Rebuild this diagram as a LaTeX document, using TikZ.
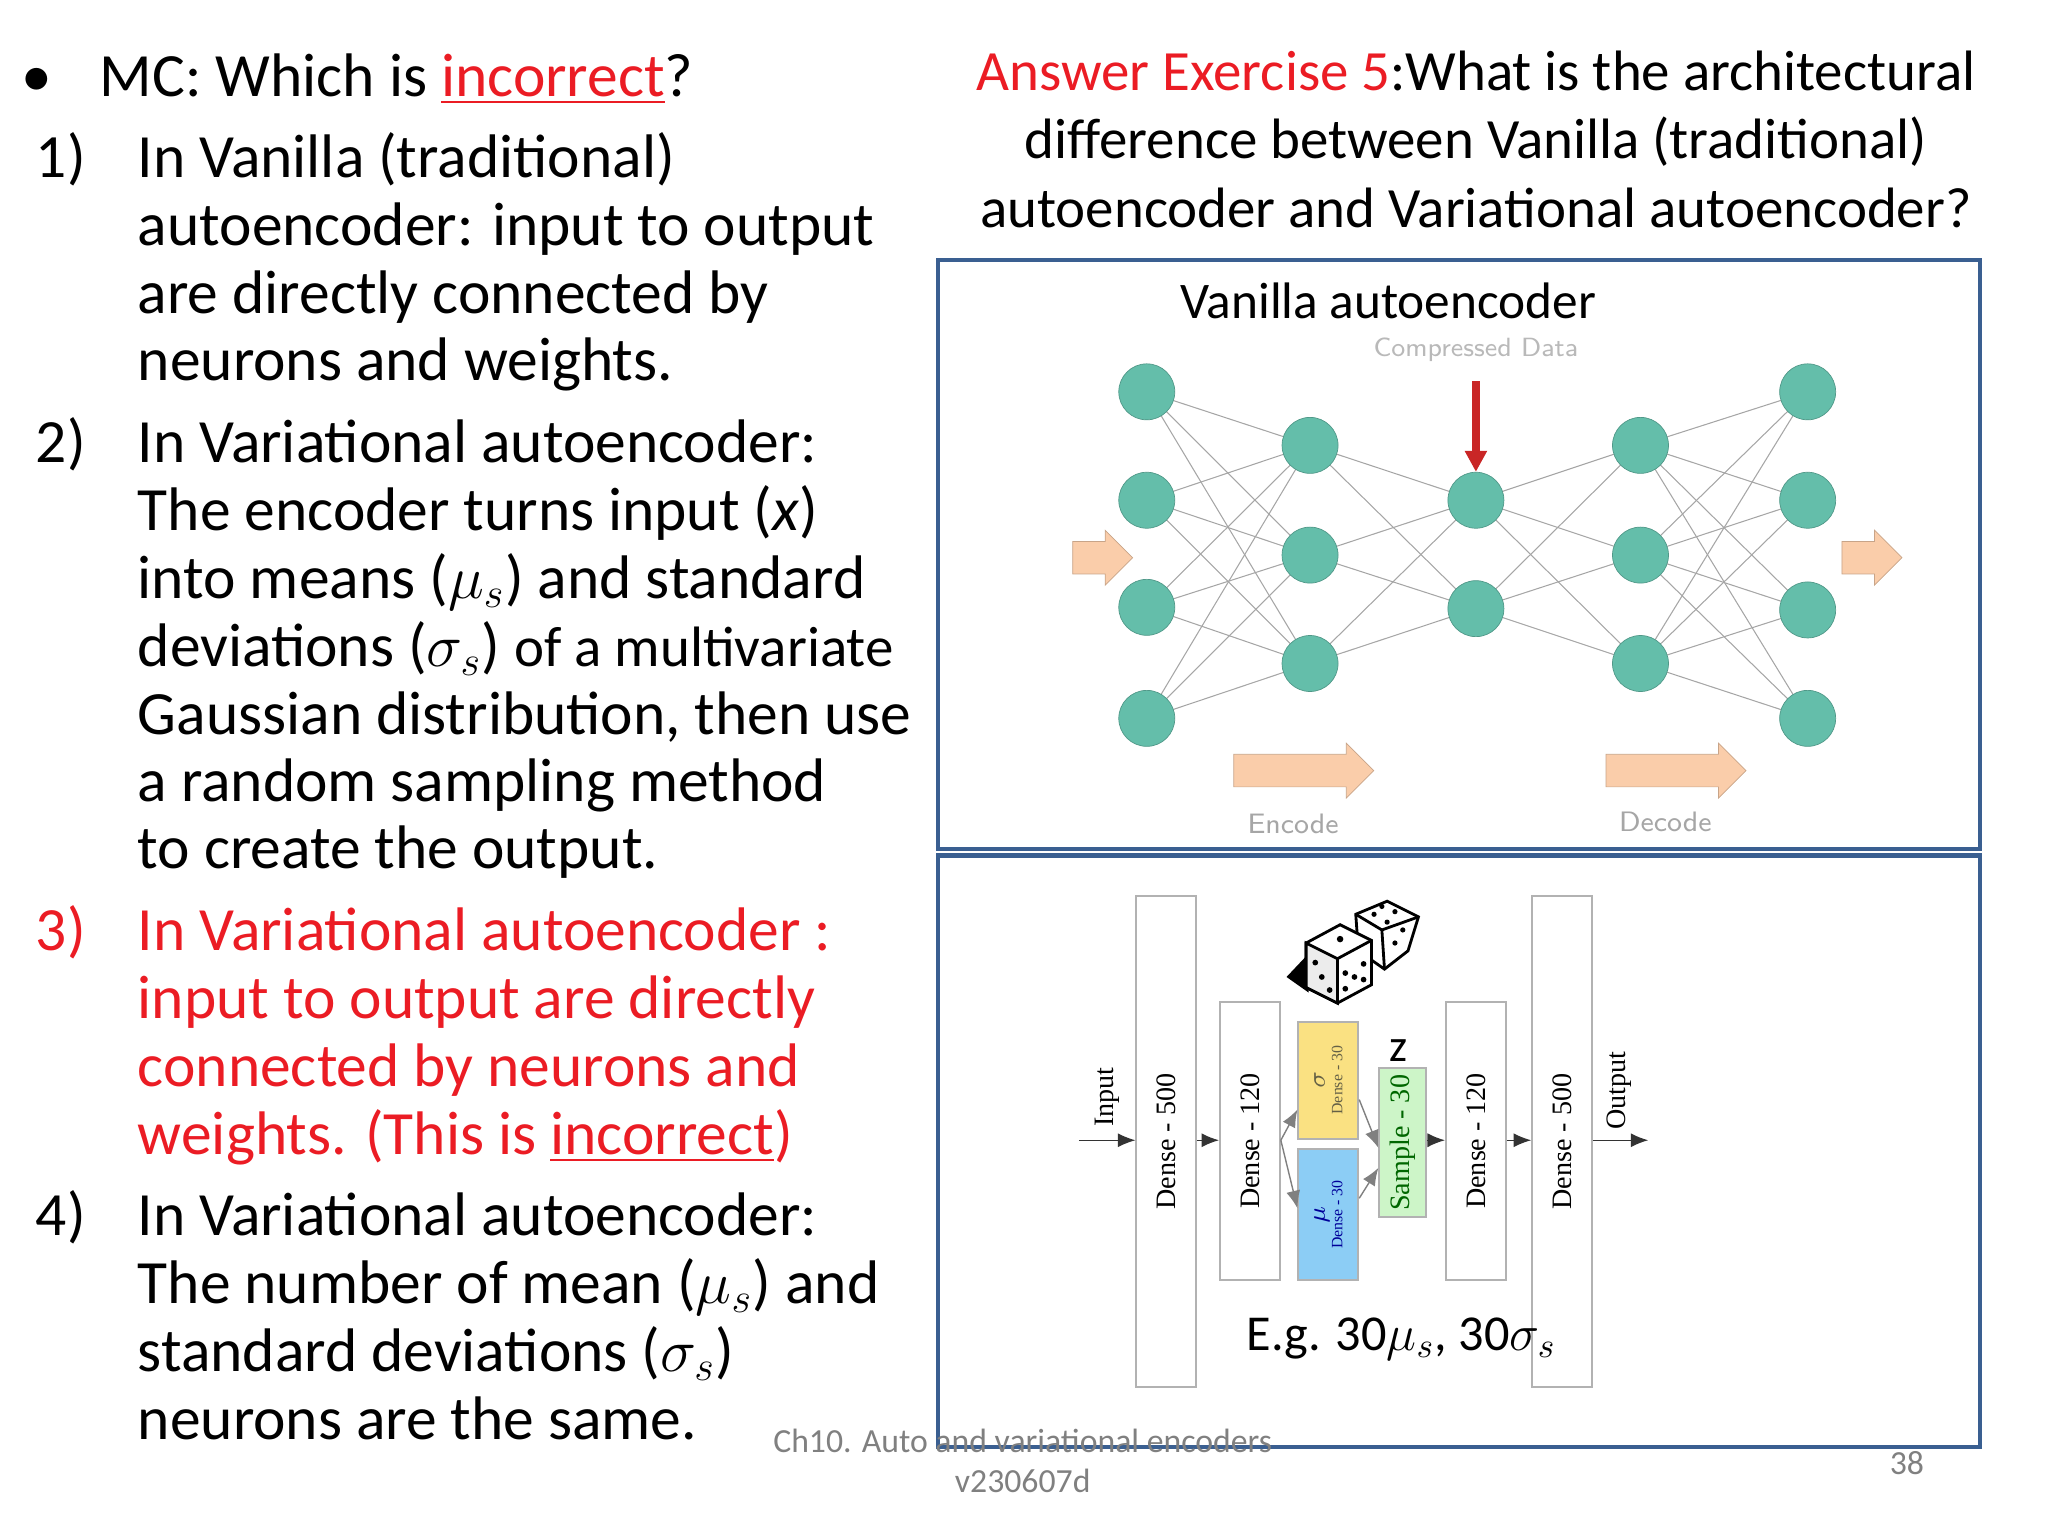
\documentclass[tikz,border=0pt]{standalone}
\usepackage{fontspec}
\setmainfont{Carlito}
\newfontfamily\serifx{Liberation Serif}
\usetikzlibrary{arrows.meta,shapes.arrows}
\definecolor{boxblue}{RGB}{58,95,145}
\definecolor{neur}{RGB}{100,190,170}
\definecolor{peach}{RGB}{250,205,170}
\definecolor{txtred}{RGB}{235,28,36}
\definecolor{ygold}{RGB}{250,225,130}
\definecolor{lblue}{RGB}{140,205,245}
\definecolor{lgreen}{RGB}{205,245,200}
\tikzset{
  big/.style={anchor=base west,inner sep=0pt,font=\fontsize{17.5}{19}\selectfont},
  ttl/.style={anchor=base,inner sep=0pt,font=\fontsize{16.2}{19}\selectfont},
  neuron/.style={circle,fill=neur,draw=neur!80!black,line width=0.2pt,minimum size=0.56cm,inner sep=0pt},
  wire/.style={gray!70,line width=0.3pt},
  layer/.style={draw=gray!60,fill=white,line width=0.5pt,inner sep=0pt},
  lay/.style={rotate=90,font=\serifx\fontsize{8}{9}\selectfont,inner sep=0pt},
  tiny/.style={rotate=90,font=\serifx\fontsize{4.5}{5}\selectfont,inner sep=0pt,align=center},
  flow/.style={-{Latex[length=5pt,width=4pt]},line width=0.4pt,black!80},
  fat/.style={single arrow,fill=peach,draw=peach!80!black,line width=0.2pt,minimum height=1.35cm,minimum width=0.55cm,single arrow head extend=0.08cm,inner xsep=0pt,inner ysep=3.2pt}
}
\begin{document}
\begin{tikzpicture}[x=0.01306cm,y=-0.01306cm]
\useasboundingbox (0,0) rectangle (1568,1176);
% left text
\node[big] (bul) at (16,74) {\textbullet};
\node[big] (mc) at (76,74) {MC: Which is \textcolor{txtred}{\underline{incorrect}}?};
\foreach \n/\y in {1)/136,2)/354,4)/946} \node[big] at (27,\y) {\n};
\node[big,txtred] (n3) at (27,728) {3)};
\node[big] (a1) at (105,136) {In Vanilla (traditional)};
\node[big] (a2) at (105,188) {autoencoder: input to output};
\node[big] (a3) at (105,240) {are directly connected by};
\node[big] (a4) at (105,291) {neurons and weights.};
\node[big] (b1) at (105,354) {In Variational autoencoder:};
\node[big] (b2) at (105,406) {The encoder turns input (\textit{x})};
\node[big] (b3) at (105,458) {into means ($\mu_s$) and standard};
\node[big] (b4) at (105,510) {deviations ($\sigma_s$) {\fontsize{16.2}{19}\selectfont of a multivariate}};
\node[big] (b5) at (105,562) {Gaussian distribution, then use};
\node[big] (b6) at (105,614) {a random sampling method};
\node[big] (b7) at (105,665) {to create the output.};
\node[big,txtred] (c1) at (105,728) {In Variational autoencoder :};
\node[big,txtred] (c2) at (105,780) {input to output are directly};
\node[big,txtred] (c3) at (105,832) {connected by neurons and};
\node[big,txtred] (c4) at (105,884) {weights. (This is \underline{incorrect})};
\node[big] (d1) at (105,946) {In Variational autoencoder:};
\node[big] (d2) at (105,998) {The number of mean ($\mu_s$) and};
\node[big] (d3) at (105,1050) {standard deviations ($\sigma_s$)};
\node[big] (d4) at (105,1102) {neurons are the same.};
% right title
\node[ttl] (t1) at (1130,69) {\textcolor{txtred}{Answer Exercise 5}:What is the architectural};
\node[ttl] (t2) at (1130,121) {difference between Vanilla (traditional)};
\node[ttl] (t3) at (1130,174) {autoencoder and Variational autoencoder?};
% boxes
\draw[boxblue,line width=1.3pt] (718,199) rectangle (1516,650);
\draw[boxblue,line width=1.3pt] (718,655) rectangle (1516,1108);
\node[anchor=base,inner sep=0pt,font=\fontsize{14.6}{16}\selectfont] (van) at (1063,244) {Vanilla autoencoder};
% network
\foreach \i/\y in {1/300,2/383,3/465,4/550} \coordinate (p1\i) at (878,\y);
\foreach \i/\y in {1/341,2/425,3/508} \coordinate (p2\i) at (1003,\y);
\foreach \i/\y in {1/383,2/466} \coordinate (p3\i) at (1130,\y);
\foreach \i/\y in {1/341,2/425,3/508} \coordinate (p4\i) at (1256,\y);
\foreach \i/\y in {1/300,2/383,3/467,4/550} \coordinate (p5\i) at (1384,\y);
\foreach \a in {1,...,4}{\foreach \b in {1,2,3}{\draw[wire] (p1\a) -- (p2\b); \draw[wire] (p4\b) -- (p5\a);}}
\foreach \a in {1,2,3}{\foreach \b in {1,2}{\draw[wire] (p2\a) -- (p3\b); \draw[wire] (p3\b) -- (p4\a);}}
\foreach \l/\n in {1/4,2/3,3/2,4/3,5/4}{\foreach \i in {1,...,\n} \node[neuron] (n\l\i) at (p\l\i) {};}
\node[inner sep=0pt,text=gray!55,font=\sffamily\fontsize{7.5}{8}\selectfont] (cd) at (1130,268) {Compressed Data};
\coordinate (rtop) at (1130,292);
\draw[-{Triangle[length=6pt,width=6pt]},line width=2.2pt,red!75!black!85] (rtop) -- (n31.north);
\node[fat,minimum height=0.6cm] (ain) at (838,427) {};
\node[fat,minimum height=0.6cm] (aout) at (1427,427) {};
\node[fat,minimum height=1.4cm] (aenc) at (992,590) {};
\node[fat,minimum height=1.4cm] (adec) at (1277,590) {};
\node[inner sep=0pt,text=gray!70,font=\sffamily\fontsize{8}{9}\selectfont] (lenc) at (990,631) {Encode};
\node[inner sep=0pt,text=gray!70,font=\sffamily\fontsize{8}{9}\selectfont] (ldec) at (1275,629) {Decode};
% VAE diagram
\node[layer,minimum width=0.6cm,minimum height=4.91cm] (d500a) at (893,874) {};
\node[layer,minimum width=0.6cm,minimum height=2.78cm] (d120a) at (957,873.5) {};
\node[layer,fill=ygold,minimum width=0.6cm,minimum height=1.17cm] (sig) at (1017,827) {};
\node[layer,fill=lblue,minimum width=0.6cm,minimum height=1.31cm] (mu) at (1017,930) {};
\node[layer,fill=lgreen,minimum width=0.47cm,minimum height=1.49cm] (samp) at (1074,875) {};
\node[layer,minimum width=0.6cm,minimum height=2.78cm] (d120b) at (1130,873.5) {};
\node[layer,minimum width=0.6cm,minimum height=4.91cm] (d500b) at (1196,874) {};
\node[lay] at (d500a) {Dense - 500};
\node[lay] at (d120a) {Dense - 120};
\node[lay] at (d120b) {Dense - 120};
\node[lay] at (d500b) {Dense - 500};
\node[lay,text=green!40!black] at (samp) {Sample - 30};
\node[tiny,text=black!70!yellow] at (sig) {{\fontsize{7}{7}\selectfont$\sigma$}\\Dense - 30};
\node[tiny,text=blue!60!black] at (mu) {{\fontsize{7}{7}\selectfont$\mu$}\\Dense - 30};
\node[lay] (inp) at (848,840) {Input};
\node[lay] (outp) at (1240,835) {Output};
\coordinate (inl) at (826,873);
\coordinate (outr) at (1262,873);
\draw[flow] (inl) -- (d500a.west |- inl);
\draw[flow] (d500a.east |- inl) -- (d120a.west |- inl);
\draw[flow,gray] (d120a.east |- inl) -- ([yshift=0.3cm]sig.south west);
\draw[flow,gray] (d120a.east |- inl) -- ([yshift=-0.6cm]mu.north west);
\draw[flow,gray] ([yshift=0.4cm]sig.south east) -- ([yshift=-0.05cm]samp.west);
\draw[flow,gray] ([yshift=-0.5cm]mu.north east) -- ([yshift=-0.25cm]samp.west);
\draw[flow] (samp.east |- inl) -- (d120b.west |- inl);
\draw[flow] (d120b.east |- inl) -- (d500b.west |- inl);
\draw[flow] (d500b.east |- inl) -- (outr);
\node[inner sep=0pt,font=\fontsize{13}{14}\selectfont] (zl) at (1071,804) {z};
\node[inner sep=0pt,font=\fontsize{14.3}{16}\selectfont] (eg) at (1073,1025) {E.g. 30$\mu_s$, 30$\sigma_s$};
% dice
\fill[black] (985,748) -- (1002,730) -- (1002,760) -- cycle;
\draw[line width=0.8pt,fill=white] (1038,700) -- (1062,690) -- (1086,702) -- (1078,728) -- (1060,742) -- (1040,728) -- cycle;
\draw[line width=0.8pt] (1038,700) -- (1058,712) -- (1086,702) (1058,712) -- (1060,742);
\draw[line width=0.8pt,fill=white] (1000,722) -- (1026,708) -- (1050,720) -- (1050,754) -- (1024,768) -- (1000,756) -- cycle;
\draw[line width=0.8pt,fill=gray!15] (1000,722) -- (1024,734) -- (1024,768) -- (1000,756) -- cycle;
\draw[line width=0.8pt] (1024,734) -- (1050,720);
\fill (1026,719) circle (2.5);
\foreach \p in {(1007,737),(1012,748),(1018,758)} \fill \p circle (2.2);
\foreach \p in {(1030,745),(1044,738),(1030,757),(1044,750),(1037,748)} \fill \p circle (2.2);
\foreach \p in {(1052,700),(1068,698),(1062,706),(1058,694)} \fill \p circle (2);
\foreach \p in {(1068,722),(1074,712)} \fill \p circle (2);
% footer
\node[anchor=base,inner sep=0pt,text=gray,font=\fontsize{9.6}{11}\selectfont] (f1) at (783,1112) {Ch10. Auto and variational encoders};
\node[anchor=base,inner sep=0pt,text=gray,font=\fontsize{9.6}{11}\selectfont] (f2) at (783,1143) {v230607d};
\node[anchor=base,inner sep=0pt,text=gray,font=\fontsize{9.6}{11}\selectfont] (f3) at (1460,1129) {38};
\end{tikzpicture}
\end{document}
